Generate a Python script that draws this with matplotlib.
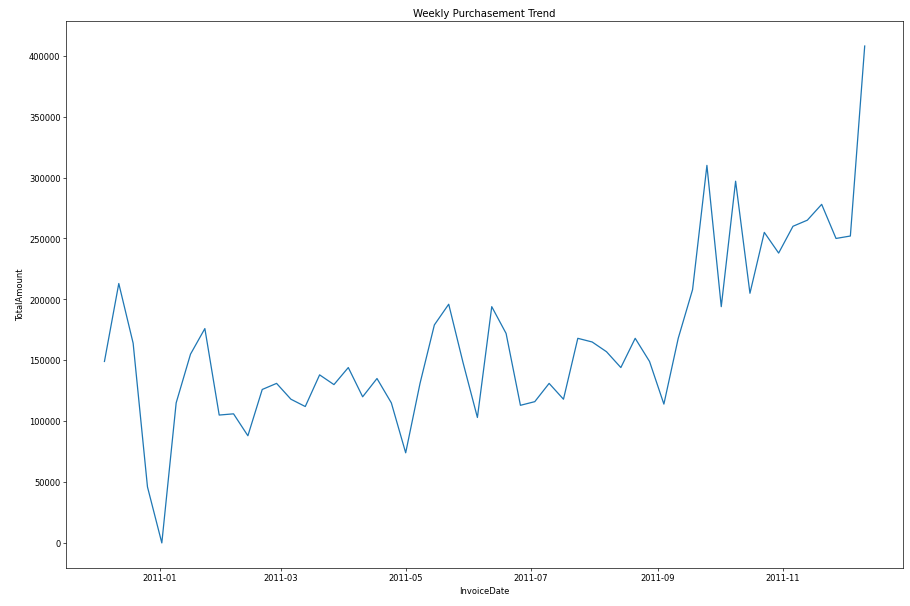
import numpy as np
import pandas as pd
import matplotlib
matplotlib.use("Agg")
import matplotlib.pyplot as plt
import matplotlib.dates as mdates

weeks = pd.date_range("2010-12-05", "2011-12-11", freq="W-SUN")
total_amount = [
    149000, 213000, 164000, 46000, 0, 115000, 155000, 176000, 105000, 106000,
    88000, 126000, 131000, 118000, 112000, 138000, 130000, 144000, 120000, 135000,
    115000, 74000, 131000, 179000, 196000, 148000, 103000, 194000, 172000, 113000,
    116000, 131000, 118000, 168000, 165000, 157000, 144000, 168000, 149000, 114000,
    168000, 208000, 310000, 194000, 297000, 205000, 255000, 238000, 260000, 265000,
    278000, 250000, 252000, 408000,
]

fig, ax = plt.subplots(figsize=(15, 10), dpi=910 / 15)
ax.plot(weeks, total_amount, color="#1f77b4")
ax.set_title("Weekly Purchasement Trend")
ax.set_xlabel("InvoiceDate")
ax.set_ylabel("TotalAmount")
ax.xaxis.set_major_locator(mdates.MonthLocator(bymonth=[1, 3, 5, 7, 9, 11]))
ax.xaxis.set_major_formatter(mdates.DateFormatter("%Y-%m"))
fig.subplots_adjust(left=0.073, right=0.992, top=0.964, bottom=0.063)
fig.savefig("out.png")
